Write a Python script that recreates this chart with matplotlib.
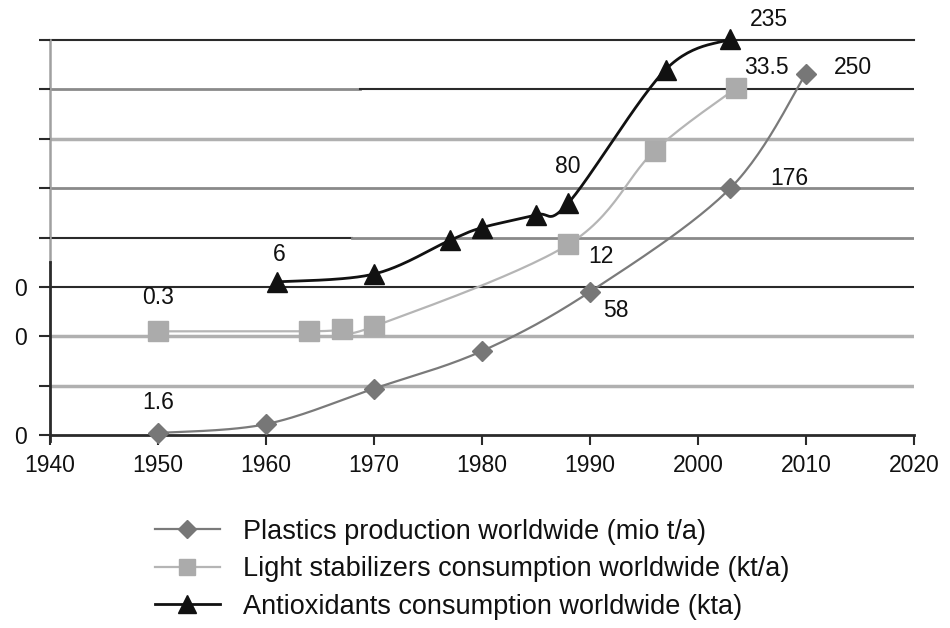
import numpy as np
import matplotlib
matplotlib.use("Agg")
import matplotlib.pyplot as plt
from matplotlib.lines import Line2D

plt.rcParams['font.family'] = ['Liberation Sans', 'DejaVu Sans']

# ---------------- data ----------------
plastics_years = [1950, 1960, 1970, 1980, 1990, 2003, 2010]
plastics_vals = [2, 11, 47, 85, 145, 250, 366]

light_years = [1950, 1964, 1967, 1970, 1988, 1996, 2003.5]
light_vals = [105, 105, 107, 110, 193, 288, 351]

anti_years = [1961, 1970, 1977, 1980, 1985, 1988, 1997, 2003]
anti_vals = [155, 163, 197, 210, 223, 235, 370, 401]

x_ticks = [1940, 1950, 1960, 1970, 1980, 1990, 2000, 2010, 2020]
y_ticks = [0, 50, 100, 150, 200, 250, 300, 350, 400]
y_ticklabels = ["0", "", "0", "0", "", "", "", "", ""]

legend_labels = ["Plastics production worldwide (mio t/a)",
                 "Light stabilizers consumption worldwide (kt/a)",
                 "Antioxidants consumption worldwide (kta)"]

# value annotations: (text, x, y)
annot_text = ["235", "33.5", "250", "176", "80", "12", "58", "6", "0.3", "1.6"]
annot_x = [2006.6, 2006.3, 2014.3, 2008.5, 1987.9, 1991.0, 1992.4, 1961.2, 1950.0, 1950.0]
annot_y = [421, 372, 372, 260, 272, 181, 126, 183, 139, 33]


def smooth(xs, ys, n=30):
    """Excel-like smoothed path (Catmull-Rom as cubic Bezier) through the points."""
    xs = np.asarray(xs, float)
    ys = np.asarray(ys, float)
    px, py = [xs[0]], [ys[0]]
    m = len(xs)
    for i in range(m - 1):
        i0 = max(i - 1, 0)
        i3 = min(i + 2, m - 1)
        c1x = xs[i] + (xs[i + 1] - xs[i0]) / 6
        c1y = ys[i] + (ys[i + 1] - ys[i0]) / 6
        c2x = xs[i + 1] - (xs[i3] - xs[i]) / 6
        c2y = ys[i + 1] - (ys[i3] - ys[i]) / 6
        t = np.linspace(0, 1, n)[1:]
        bx = ((1 - t) ** 3 * xs[i] + 3 * (1 - t) ** 2 * t * c1x
              + 3 * (1 - t) * t ** 2 * c2x + t ** 3 * xs[i + 1])
        by = ((1 - t) ** 3 * ys[i] + 3 * (1 - t) ** 2 * t * c1y
              + 3 * (1 - t) * t ** 2 * c2y + t ** 3 * ys[i + 1])
        px.extend(bx)
        py.extend(by)
    return np.array(px), np.array(py)


fig = plt.figure(figsize=(9.5, 6.28), dpi=100)
ax = fig.add_axes([50 / 950, 1 - 435 / 628, 864 / 950, 395 / 628])
ax.set_xlim(1940, 2020)
ax.set_ylim(0, 400)
for s in ax.spines.values():
    s.set_visible(False)

dark = "#2a2a2a"
mid = "#8a8a8a"
light = "#b0b0b0"

# gridlines (segments with their own shades)
ax.axhline(400, color=dark, lw=1.5, zorder=1, clip_on=False)
ax.axhline(350, xmin=0, xmax=0.359, color=mid, lw=2, zorder=1)
ax.axhline(350, xmin=0.359, xmax=1, color=dark, lw=1.5, zorder=1)
ax.axhline(300, color=light, lw=2.5, zorder=1)
ax.axhline(250, color=mid, lw=2, zorder=1)
ax.axhline(200, xmin=0, xmax=0.35, color=dark, lw=1.5, zorder=1)
ax.axhline(200, xmin=0.35, xmax=1, color=mid, lw=2, zorder=1)
ax.axhline(150, color=dark, lw=1.5, zorder=1)
ax.axhline(100, color=light, lw=2.5, zorder=1)
ax.axhline(50, color=light, lw=2.5, zorder=1)
ax.axhline(0, color=dark, lw=2, zorder=1, clip_on=False)

# y axis line: light upper part, dark lower part
ax.axvline(1940, ymin=0.4375, ymax=1.0, color="#a0a0a0", lw=1.8, zorder=1, clip_on=False)
ax.axvline(1940, ymin=-0.015, ymax=0.4375, color=dark, lw=2, zorder=1, clip_on=False)

# ticks
ax.set_xticks(x_ticks)
ax.set_xticklabels([str(v) for v in x_ticks])
ax.set_yticks(y_ticks)
ax.set_yticklabels(y_ticklabels)
ax.tick_params(axis='x', direction='out', length=7, width=1.5, color=dark,
               labelsize=16.5, pad=7, labelcolor="#111111")
ax.tick_params(axis='y', direction='out', length=8, width=1.5, color=dark,
               labelsize=16.5, pad=9, labelcolor="#111111")

# series
sx, sy = smooth(plastics_years, plastics_vals)
ax.plot(sx, sy, color="#7a7a7a", lw=1.6, zorder=3, clip_on=False)
ax.plot(plastics_years, plastics_vals, linestyle='none', marker='D', ms=10,
        color="#777777", zorder=4, clip_on=False)

sx, sy = smooth(light_years, light_vals)
ax.plot(sx, sy, color="#b5b5b5", lw=1.6, zorder=3, clip_on=False)
ax.plot(light_years, light_vals, linestyle='none', marker='s', ms=14,
        color="#ababab", zorder=4, clip_on=False)

sx, sy = smooth(anti_years, anti_vals)
ax.plot(sx, sy, color="#111111", lw=2, zorder=5, clip_on=False)
ax.plot(anti_years, anti_vals, linestyle='none', marker='^', ms=15,
        color="#111111", zorder=6, clip_on=False)

for t, x, y in zip(annot_text, annot_x, annot_y):
    ax.text(x, y, t, fontsize=16.5, ha='center', va='center', color="#111111",
            zorder=7, clip_on=False)

# legend
handles = [
    Line2D([], [], color="#7a7a7a", lw=1.6, marker='D', ms=9, markerfacecolor="#777777",
           markeredgecolor="#777777"),
    Line2D([], [], color="#b5b5b5", lw=1.6, marker='s', ms=11, markerfacecolor="#ababab",
           markeredgecolor="#ababab"),
    Line2D([], [], color="#111111", lw=2, marker='^', ms=13, markerfacecolor="#111111",
           markeredgecolor="#111111"),
]
fig.legend(handles, legend_labels, loc='upper left', bbox_to_anchor=(144 / 950, 1 - 508 / 628),
           frameon=False, fontsize=19.5, handlelength=2.4, handletextpad=0.85,
           labelspacing=0.42, borderaxespad=0, labelcolor="#111111")

fig.savefig("out.png", dpi=100)
